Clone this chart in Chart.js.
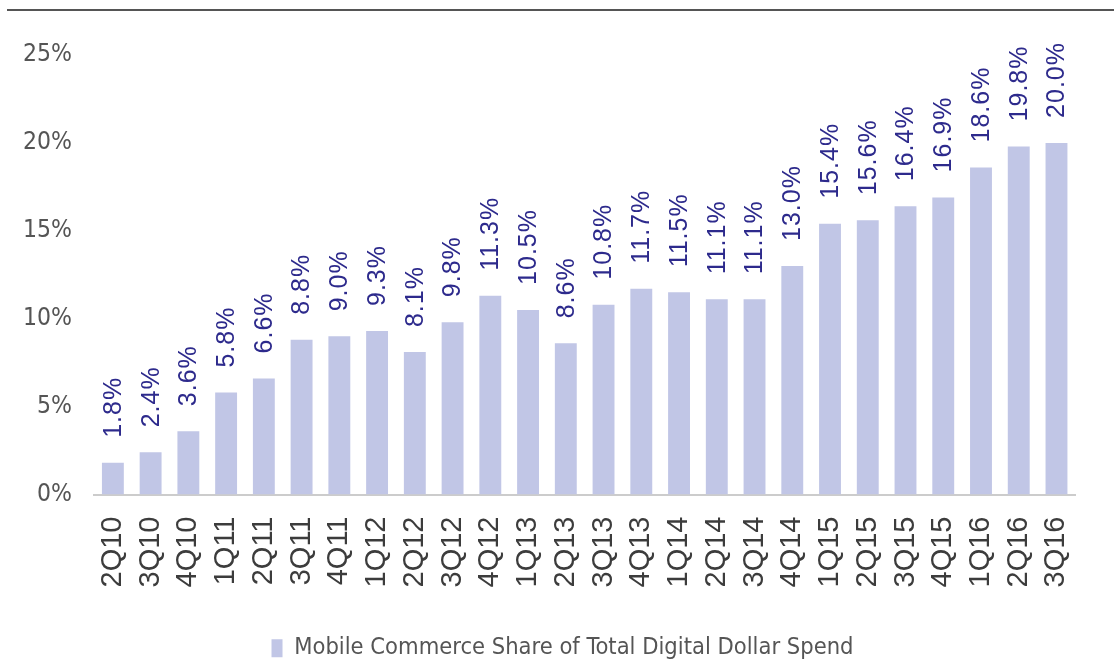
<!DOCTYPE html>
<html>
<head>
<meta charset="utf-8">
<script src="https://cdn.jsdelivr.net/npm/chart.js@4/dist/chart.umd.min.js"></script>
<style>
html,body{margin:0;padding:0;background:#fff;}
#wrap{width:1114px;height:671px;position:relative;}
</style>
</head>
<body>
<div id="wrap"><canvas id="c" width="1114" height="671"></canvas></div>
<script>
const categories = ["2Q10","3Q10","4Q10","1Q11","2Q11","3Q11","4Q11","1Q12","2Q12","3Q12","4Q12","1Q13","2Q13","3Q13","4Q13","1Q14","2Q14","3Q14","4Q14","1Q15","2Q15","3Q15","4Q15","1Q16","2Q16","3Q16"];
const shareValues = [1.8,2.4,3.6,5.8,6.6,8.8,9.0,9.3,8.1,9.8,11.3,10.5,8.6,10.8,11.7,11.5,11.1,11.1,13.0,15.4,15.6,16.4,16.9,18.6,19.8,20.0];
const yTicks = [0,5,10,15,20,25];
const seriesName = "Mobile Commerce Share of Total Digital Dollar Spend";

const narrow = "'Liberation Sans Narrow','DejaVu Sans Condensed',sans-serif";

const topLine = {
  id:'topLine',
  beforeDraw(chart){
    const ctx = chart.ctx;
    ctx.save();
    ctx.strokeStyle = '#555';
    ctx.lineWidth = 2;
    ctx.beginPath();
    ctx.moveTo(7, 10);
    ctx.lineTo(chart.width, 10);
    ctx.stroke();
    ctx.restore();
  }
};

const legendShift = {
  id:'legendShift',
  afterLayout(chart){
    if (chart.legend) {
      chart.legend.left += 24;
      chart.legend.right += 24;
    }
  }
};

const valueLabels = {
  id:'valueLabels',
  afterDatasetsDraw(chart){
    const ctx = chart.ctx;
    const meta = chart.getDatasetMeta(0);
    ctx.save();
    ctx.fillStyle = '#2d2a8c';
    ctx.font = "25px 'Liberation Sans', Arial, sans-serif";
    ctx.letterSpacing = '1px';
    ctx.textAlign = 'left';
    ctx.textBaseline = 'middle';
    meta.data.forEach((bar, i) => {
      const v = chart.data.datasets[0].data[i];
      ctx.save();
      ctx.translate(bar.x, bar.y - 25);
      ctx.rotate(-Math.PI/2);
      ctx.fillText(v.toFixed(1) + '%', 0, 1);
      ctx.restore();
    });
    ctx.restore();
  }
};

new Chart(document.getElementById('c'), {
  type:'bar',
  data:{
    labels: categories,
    datasets:[{
      label: seriesName,
      data: shareValues,
      backgroundColor:'#c1c6e6',
      borderWidth:0,
      barPercentage:0.58,
      categoryPercentage:1.0
    }]
  },
  options:{
    responsive:false,
    animation:false,
    devicePixelRatio:1,
    layout:{padding:{left:0,right:37,top:55,bottom:1}},
    plugins:{
      tooltip:{enabled:false},
      legend:{
        position:'bottom',
        labels:{
          boxWidth:11,
          boxHeight:18,
          padding:4,
          color:'#555',
          font:{family:narrow,size:23.5}
        }
      }
    },
    scales:{
      x:{
        grid:{display:false,drawTicks:false},
        border:{display:true,color:'#cccccc',width:2},
        ticks:{
          minRotation:90,maxRotation:90,
          padding:22,
          color:'#3c3c3c',
          autoSkip:false,
          font:{family:"'Liberation Sans', Arial, sans-serif",size:29}
        },
        afterFit(axis){ axis.height = 138; }
      },
      y:{
        min:0,max:25,
        grid:{display:false,drawTicks:false},
        border:{display:false},
        afterBuildTicks(axis){ axis.ticks = yTicks.map(v=>({value:v})); },
        ticks:{
          padding:22,
          color:'#555',
          font:{family:narrow,size:24.5},
          callback:(v)=>v+'%'
        },
        afterFit(axis){ axis.width = 94; }
      }
    }
  },
  plugins:[topLine, legendShift, valueLabels]
});
</script>
</body>
</html>
